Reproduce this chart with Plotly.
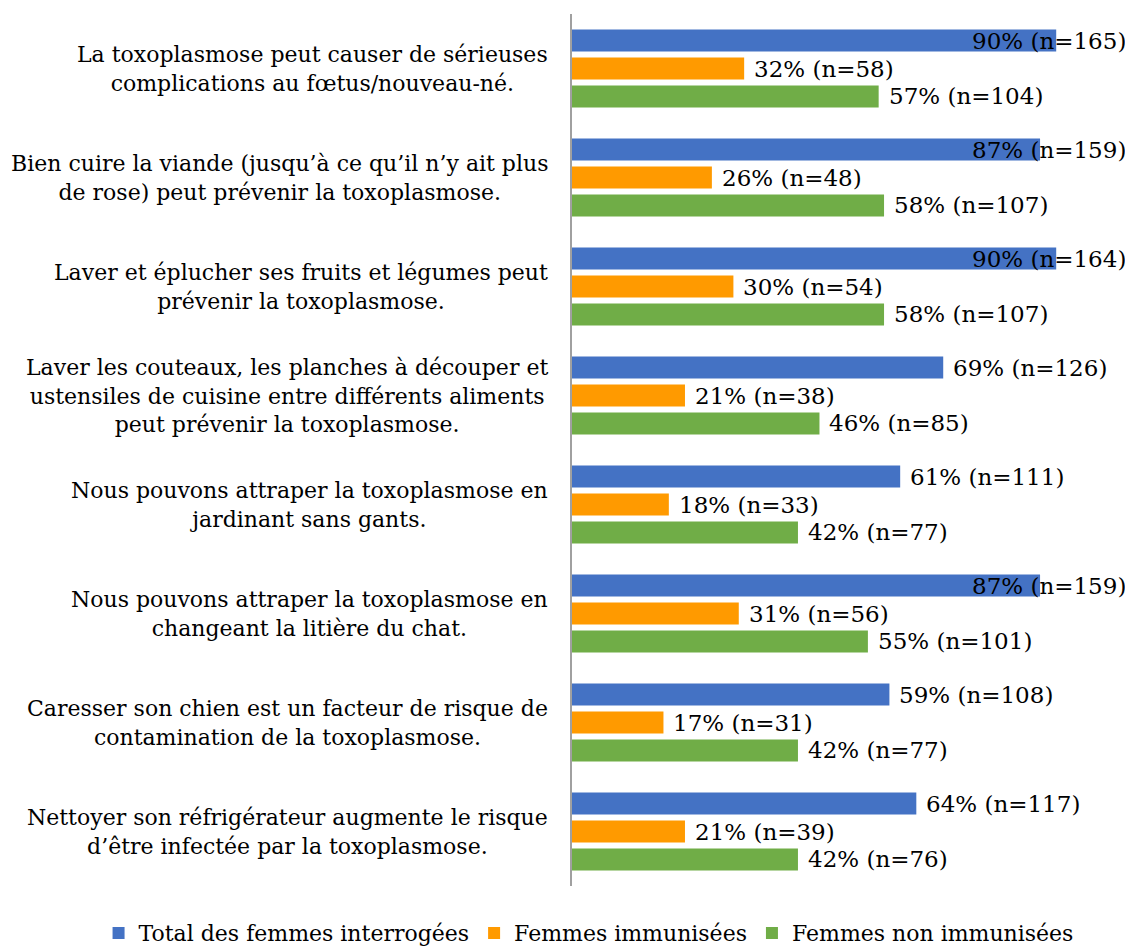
import plotly.graph_objects as go

# categories (line breaks as in the original chart)
categories = [
    "La toxoplasmose peut causer de sérieuses<br>complications au fœtus/nouveau-né.",
    "Bien cuire la viande (jusqu’à ce qu’il n’y ait plus<br>de rose) peut prévenir la toxoplasmose.",
    "Laver et éplucher ses fruits et légumes peut<br>prévenir la toxoplasmose.",
    "Laver les couteaux, les planches à découper et<br>ustensiles de cuisine entre différents aliments<br>peut prévenir la toxoplasmose.",
    "Nous pouvons attraper la toxoplasmose en<br>jardinant sans gants.",
    "Nous pouvons attraper la toxoplasmose en<br>changeant la litière du chat.",
    "Caresser son chien est un facteur de risque de<br>contamination de la toxoplasmose.",
    "Nettoyer son réfrigérateur augmente le risque<br>d’être infectée par la toxoplasmose.",
]

total_pct = [90, 87, 90, 69, 61, 87, 59, 64]
total_n = [165, 159, 164, 126, 111, 159, 108, 117]
immun_pct = [32, 26, 30, 21, 18, 31, 17, 21]
immun_n = [58, 48, 54, 38, 33, 56, 31, 39]
nonimmun_pct = [57, 58, 58, 46, 42, 55, 42, 42]
nonimmun_n = [104, 107, 107, 85, 77, 101, 77, 76]

series = [
    ("Total des femmes interrogées", total_pct, total_n, "#4472C4"),
    ("Femmes immunisées", immun_pct, immun_n, "#FF9A00"),
    ("Femmes non immunisées", nonimmun_pct, nonimmun_n, "#70AD47"),
]

W, H = 1133, 951
# the page body adds an 8px offset, margins are reduced accordingly
M_L, M_R, M_T, M_B = 564, 31, 6, 73
BARGAP = 0.23
FONT = "DejaVu Serif"

fig = go.Figure()
for name, pct, n, color in series:
    fig.add_trace(go.Bar(
        y=categories, x=pct, orientation="h", name=name,
        marker=dict(color=color, line=dict(width=0)),
    ))

# value labels, placed next to each bar of the group
plot_h = H - M_T - M_B
slot = plot_h / len(categories) * (1 - BARGAP) / len(series)
annotations = []
for j, (name, pct, n, color) in enumerate(series):
    shift = (1 - j) * slot
    for cat, p, k in zip(categories, pct, n):
        label = f"{p}% (n={k})"
        if p >= 80:
            # too long to fit after the bar: pushed back against the right edge
            annotations.append(dict(xref="paper", x=1, xanchor="right", xshift=18,
                                    yref="y", y=cat, yshift=shift, text=label,
                                    font=dict(size=23), showarrow=False))
        else:
            annotations.append(dict(xref="x", x=p, xanchor="left", xshift=8,
                                    yref="y", y=cat, yshift=shift, text=label,
                                    font=dict(size=23), showarrow=False))

# category labels, centred lines, right aligned block
for cat in categories:
    annotations.append(dict(xref="paper", x=0, xanchor="right", xshift=-22,
                            yref="y", y=cat, text=cat, align="center",
                            showarrow=False))

fig.update_layout(
    width=W, height=H,
    margin=dict(l=M_L, r=M_R, t=M_T, b=M_B, autoexpand=False),
    barmode="group", bargap=BARGAP, bargroupgap=0.21,
    plot_bgcolor="white", paper_bgcolor="white",
    font=dict(family=FONT, size=22, color="black"),
    annotations=annotations,
    legend=dict(orientation="h", x=-0.88, xanchor="left",
                y=-0.054, yanchor="middle", traceorder="normal",
                font=dict(size=22)),
)
fig.update_xaxes(visible=False, range=[0, 100])
fig.update_yaxes(autorange="reversed", showticklabels=False, ticks="",
                 showgrid=False, zeroline=False, showline=True,
                 linecolor="#A0A0A0", linewidth=2)

fig.write_html("out.html")
